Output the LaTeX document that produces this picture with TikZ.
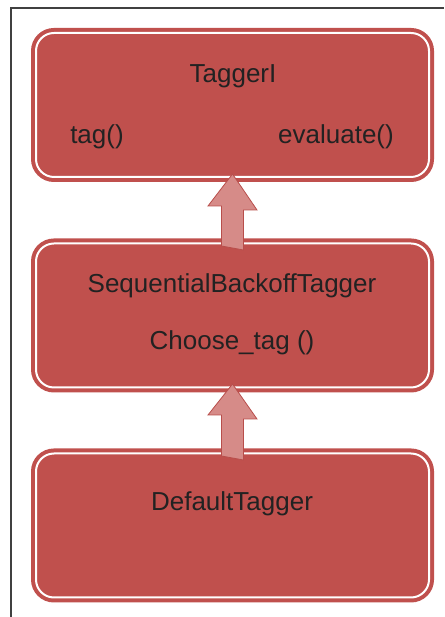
\documentclass[tikz,border=0pt]{standalone}
\usepackage{fontspec}
\setmainfont{Liberation Sans}
\usepackage{tikz}
\usetikzlibrary{calc}

\definecolor{boxred}{HTML}{C0504D}
\definecolor{arrowfill}{HTML}{D68B88}
\definecolor{arrowline}{HTML}{B84E4B}
\definecolor{framegray}{HTML}{404040}
\definecolor{textgray}{HTML}{222222}

\begin{document}
\begin{tikzpicture}[x=1pt, y=1pt,
    classbox/.style={rectangle, rounded corners=18pt, fill=boxred, draw=boxred,
        double=white, line width=4pt, double distance=2pt,
        minimum width=393pt, minimum height=144pt},
    lbl/.style={anchor=base, text=textgray, font=\fontsize{26}{31}\selectfont},
    uparrow/.style={fill=arrowfill, draw=arrowline, line width=0.8pt, line join=miter}]
    \useasboundingbox (0,0) rectangle (444,617);
    \draw[framegray, line width=1.5pt] (11,0) -- (11,609) -- (444,609);

    \node (tagger) at (232.5,512) [classbox] {};
    \node (sbt) at (232.5,301.5) [classbox] {};
    \node (default) at (232.5,91.5) [classbox] {};

    \node (tagname) at (233,534) [lbl] {TaggerI};
    \node (tagfn) at (97,473) [lbl] {tag()};
    \node (evalfn) at (336,473) [lbl] {evaluate()};
    \node (sbtname) at (232,324) [lbl] {SequentialBackoffTagger};
    \node (choosefn) at (232,267) [lbl] {Choose\_tag ()};
    \node (defname) at (232,106) [lbl] {DefaultTagger};

    % inheritance arrows
    \draw[uparrow] ([shift={(-11,-4.5)}]sbt.north) -- ++(0,40) -- ++(-13.5,0)
        -- ([yshift=5pt]tagger.south) -- ++(24.5,-36) -- ++(-13.5,0) -- ++(0,-40) -- cycle;
    \draw[uparrow] ([shift={(-11,-4.5)}]default.north) -- ++(0,41) -- ++(-13.5,0)
        -- ([yshift=5.5pt]sbt.south) -- ++(24.5,-35) -- ++(-13.5,0) -- ++(0,-41) -- cycle;
\end{tikzpicture}
\end{document}
